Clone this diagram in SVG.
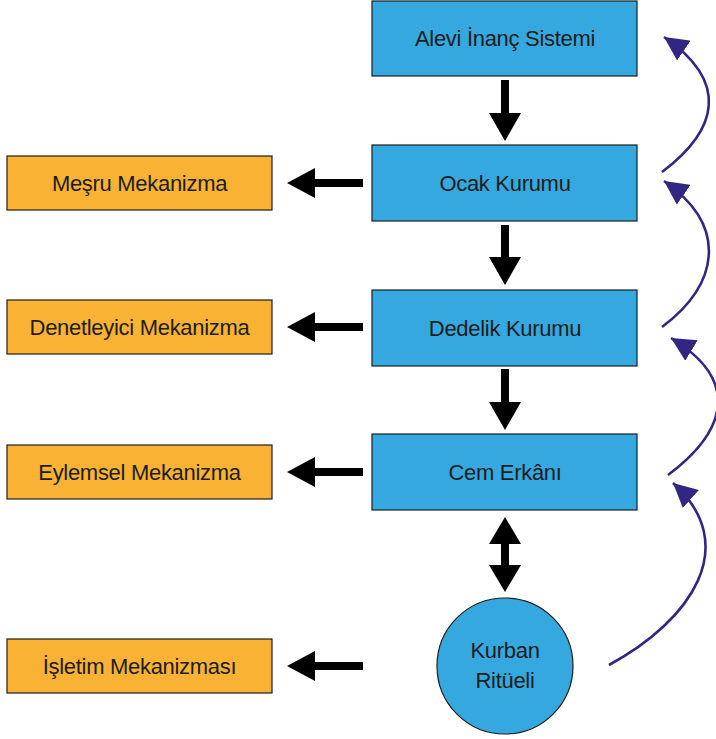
<svg xmlns="http://www.w3.org/2000/svg" width="716" height="739" viewBox="0 0 716 739">
<style>
.blue{fill:#35a8e0;stroke:#1d1d1b;stroke-width:1.2}
.orange{fill:#f9b233;stroke:#1d1d1b;stroke-width:1.2}
text{font-family:"Liberation Sans",Arial,sans-serif;font-size:22px;fill:#1d1d1b;text-anchor:middle;letter-spacing:-0.3px}
.blk{fill:#000}
.curve{fill:none;stroke:#312783;stroke-width:2.6}
</style>
<defs>
<marker id="ah" markerUnits="userSpaceOnUse" markerWidth="26" markerHeight="24" refX="24" refY="12" orient="auto">
<path d="M0,0 L24,12 L0,24 z" fill="#312783"/>
</marker>
</defs>
<rect width="716" height="739" fill="#fff"/>
<g id="n-alevi"><rect class="blue" x="372" y="1" width="265" height="75"/><text x="505" y="46">Alevi İnanç Sistemi</text></g>
<g id="n-ocak"><rect class="blue" x="372" y="145" width="265" height="76"/><text x="505" y="191">Ocak Kurumu</text></g>
<g id="n-dedelik"><rect class="blue" x="372" y="290" width="265" height="76"/><text x="505" y="336">Dedelik Kurumu</text></g>
<g id="n-cem"><rect class="blue" x="372" y="434" width="265" height="76"/><text x="505" y="480">Cem Erkânı</text></g>
<g id="n-kurban"><circle class="blue" cx="505" cy="666" r="68"/><text x="505" y="658">Kurban</text><text x="505" y="688">Ritüeli</text></g>
<g id="n-mesru"><rect class="orange" x="7" y="156" width="265" height="54"/><text x="139.5" y="191">Meşru Mekanizma</text></g>
<g id="n-denetleyici"><rect class="orange" x="7" y="300" width="265" height="54"/><text x="139.5" y="335">Denetleyici Mekanizma</text></g>
<g id="n-eylemsel"><rect class="orange" x="7" y="445" width="265" height="54"/><text x="139.5" y="480">Eylemsel Mekanizma</text></g>
<g id="n-isletim"><rect class="orange" x="7" y="639" width="265" height="54"/><text x="139.5" y="674">İşletim Mekanizması</text></g>
<g id="connectors">
<path class="blk" d="M501,80 H509 V113 H521 L505,141 L489,113 H501 Z"/>
<path class="blk" d="M501,225 H509 V257 H521 L505,285 L489,257 H501 Z"/>
<path class="blk" d="M501,369 H509 V402 H521 L505,430 L489,402 H501 Z"/>
<path class="blk" d="M505,517 L521,544 H509 V565 H521 L505,592 L489,565 H501 V544 H489 Z"/>
<path class="blk" d="M363,179 V187 H315 V198 L287,183 L315,168 V179 Z"/>
<path class="blk" d="M363,323 V331 H315 V342 L287,327 L315,312 V323 Z"/>
<path class="blk" d="M363,468 V476 H315 V487 L287,472 L315,457 V468 Z"/>
<path class="blk" d="M363,662 V670 H315 V681 L287,666 L315,651 V662 Z"/>
<path class="curve" marker-end="url(#ah)" d="M662,172 C718,130 730,82 664,37"/>
<path class="curve" marker-end="url(#ah)" d="M662,327 C718,285 730,227 664,181"/>
<path class="curve" marker-end="url(#ah)" d="M668,475 C728,430 740,380 671,338"/>
<path class="curve" marker-end="url(#ah)" d="M609,665 C692,620 742,545 673,483"/>
</g>
</svg>
